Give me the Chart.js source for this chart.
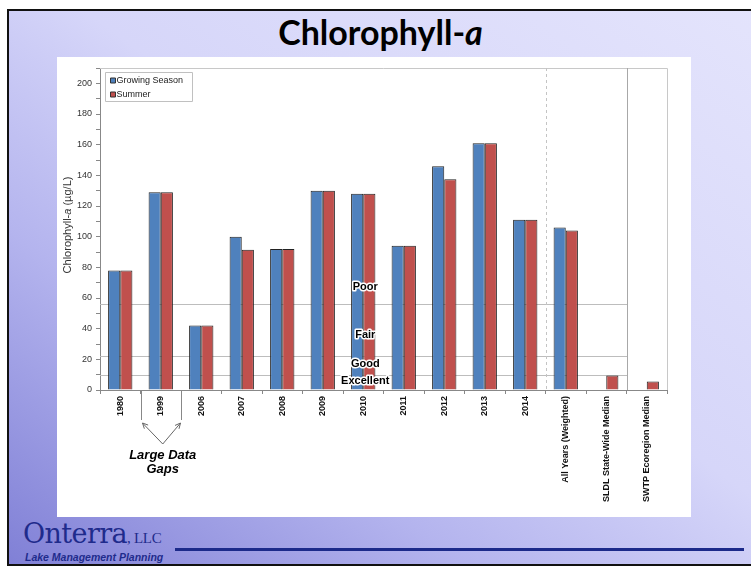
<!DOCTYPE html>
<html lang="en">
<head>
<meta charset="UTF-8">
<title>Chlorophyll-a</title>
<script src="https://cdn.jsdelivr.net/npm/chart.js@4"></script>
<style>
  html, body { margin: 0; padding: 0; width: 751px; height: 568px; overflow: hidden; background: #fff; }
  .slide {
    position: absolute; left: 7px; top: 9px; width: 760px; height: 553px;
    border: 2px solid #111; border-right: none;
    background: linear-gradient(to top right, #8080d6 0%, #b4b4ee 30%, #d6d6f9 55%, #e4e4fc 100%);
  }
  .title {
    position: absolute; left: 0; top: 11px; width: 761px; text-align: center;
    font: bold 34px Lato, "Open Sans", sans-serif; color: #000;
  }
  .panel { position: absolute; left: 57px; top: 57px; width: 634px; height: 460px; background: #fff; }
  .logo { position: absolute; left: 23px; top: 518px; color: #1f2b8c; font-family: "DejaVu Serif", serif; white-space: nowrap; }
  .logo .big { font-size: 27px; letter-spacing: -0.6px; }
  .logo .llc { font-size: 15px; font-family: "Liberation Serif", serif; letter-spacing: -0.3px; }
  .tag { position: absolute; left: 25px; top: 551px; color: #1f2b8c; font: italic bold 10.5px "Liberation Sans", Arial, sans-serif; }
  .rule { position: absolute; left: 175px; top: 548px; width: 569px; height: 3px; background: #1c2a8a; }
</style>
</head>
<body>
  <div class="slide"></div>
  <div class="title">Chlorophyll-<i>a</i></div>
  <div class="panel"><canvas id="chart" width="634" height="460"></canvas></div>
  <div class="logo"><span class="big">Onterra</span><span class="llc">, LLC</span></div>
  <div class="tag">Lake Management Planning</div>
  <div class="rule"></div>

<script>
const categories = ['1980', '1999', '2006', '2007', '2008', '2009', '2010', '2011', '2012', '2013', '2014',
  'All Years (Weighted)', 'SLDL State-Wide Median', 'SWTP Ecoregion Median'];
const growingSeason = [78, 129, 42, 100, 92, 130, 128, 94, 146, 161, 111, 106, null, null];
const summer = [78, 129, 42, 91.5, 92, 130, 128, 94, 137.5, 161, 111, 104, 9.5, 5.5];
const yTicks = { min: 0, max: 210, step: 10, labelEvery: 20 };
const thresholds = [10, 22, 56];
const zoneNames = ['Excellent', 'Good', 'Fair', 'Poor'];
const zoneLabelAt = [6, 17, 36, 67];

const BLUE = '#4F81BD', RED = '#C0504D';

const overlay = {
  id: 'overlay',
  beforeDatasetsDraw(chart) {
    const { ctx, chartArea: a, scales: { x, y } } = chart;
    const edge = i => (x.getPixelForValue(i - 1) + x.getPixelForValue(i)) / 2;
    ctx.save();
    ctx.lineWidth = 1;
    // plot frame (top + right)
    ctx.strokeStyle = '#c8c8c8';
    ctx.beginPath();
    ctx.moveTo(a.left, a.top + 0.5);
    ctx.lineTo(a.right + 0.5, a.top + 0.5);
    ctx.lineTo(a.right + 0.5, a.bottom);
    ctx.stroke();
    // trophic thresholds
    const xEnd = Math.round(edge(13));
    ctx.strokeStyle = '#bdbdbd';
    thresholds.forEach(t => {
      const py = Math.round(y.getPixelForValue(t)) + 0.5;
      ctx.beginPath(); ctx.moveTo(a.left, py); ctx.lineTo(xEnd, py); ctx.stroke();
    });
    // dividers
    ctx.setLineDash([3, 3]);
    ctx.strokeStyle = '#c4c4c4';
    let px = Math.round(edge(11)) + 0.5;
    ctx.beginPath(); ctx.moveTo(px, a.top); ctx.lineTo(px, a.bottom); ctx.stroke();
    ctx.setLineDash([]);
    ctx.strokeStyle = '#a8a8a8';
    px = xEnd + 0.5;
    ctx.beginPath(); ctx.moveTo(px, a.top); ctx.lineTo(px, a.bottom); ctx.stroke();
    ctx.restore();
  },
  afterDraw(chart) {
    const { ctx, chartArea: a, scales: { x, y } } = chart;
    const edge = i => (x.getPixelForValue(i - 1) + x.getPixelForValue(i)) / 2;
    ctx.save();

    // zone labels
    ctx.font = 'bold 11px "Liberation Sans", Arial, sans-serif';
    ctx.textAlign = 'center';
    ctx.textBaseline = 'middle';
    ctx.lineJoin = 'round';
    const zx = x.getPixelForValue(6) + 2;
    zoneNames.forEach((n, i) => {
      const zy = y.getPixelForValue(zoneLabelAt[i]);
      ctx.lineWidth = 3; ctx.strokeStyle = '#fff'; ctx.strokeText(n, zx, zy);
      ctx.fillStyle = '#000'; ctx.fillText(n, zx, zy);
    });

    // legend
    const lx = a.left + 5.5, ly = a.top + 4.5;
    ctx.fillStyle = '#fff';
    ctx.fillRect(lx, ly, 87, 29);
    ctx.strokeStyle = '#c0c0c0'; ctx.lineWidth = 1;
    ctx.strokeRect(lx, ly, 87, 29);
    ctx.font = '9px "Liberation Sans", Arial, sans-serif';
    ctx.textAlign = 'left';
    [['Growing Season', BLUE], ['Summer', RED]].forEach(([t, c], i) => {
      const yy = ly + 8 + i * 14;
      ctx.fillStyle = c; ctx.fillRect(lx + 5, yy - 2.5, 5, 5);
      ctx.strokeStyle = '#333'; ctx.strokeRect(lx + 5, yy - 2.5, 5, 5);
      ctx.fillStyle = '#222'; ctx.fillText(t, lx + 11, yy);
    });

    // y title with italic a
    ctx.translate(10.5, 168);
    ctx.rotate(-Math.PI / 2);
    const nf = '11px "Liberation Sans", Arial, sans-serif';
    const itf = 'italic 11px "Liberation Sans", Arial, sans-serif';
    const parts = [['Chlorophyll-', nf], ['a', itf], [' (\u00b5g/L)', nf]];
    let w = 0;
    parts.forEach(([t, f]) => { ctx.font = f; w += ctx.measureText(t).width; });
    let cx = -w / 2;
    ctx.fillStyle = '#333';
    parts.forEach(([t, f]) => { ctx.font = f; ctx.fillText(t, cx, 0); cx += ctx.measureText(t).width; });
    ctx.setTransform(1, 0, 0, 1, 0, 0);

    // large data gaps annotation
    const g1 = Math.round(edge(1)) + 0.5, g2 = Math.round(edge(2)) + 0.5;
    const b = a.bottom;
    ctx.strokeStyle = '#888'; ctx.lineWidth = 1;
    ctx.beginPath();
    ctx.moveTo(g1, b); ctx.lineTo(g1, b + 30);
    ctx.moveTo(g2, b); ctx.lineTo(g2, b + 30);
    ctx.stroke();
    const mx = x.getPixelForValue(1) + 2, my = b + 54;
    ctx.strokeStyle = '#666';
    [[g1 + 1, b + 33], [g2 - 1, b + 33]].forEach(([tx, ty]) => {
      ctx.beginPath(); ctx.moveTo(mx, my); ctx.lineTo(tx, ty); ctx.stroke();
      const ang = Math.atan2(ty - my, tx - mx);
      ctx.beginPath();
      ctx.moveTo(tx - 6 * Math.cos(ang - 0.45), ty - 6 * Math.sin(ang - 0.45));
      ctx.lineTo(tx, ty);
      ctx.lineTo(tx - 6 * Math.cos(ang + 0.45), ty - 6 * Math.sin(ang + 0.45));
      ctx.stroke();
    });
    ctx.font = 'italic bold 13px "Liberation Sans", Arial, sans-serif';
    ctx.textAlign = 'center';
    ctx.fillStyle = '#000';
    ctx.fillText('Large Data', mx, b + 65);
    ctx.fillText('Gaps', mx, b + 79);
    ctx.restore();
  }
};

new Chart(document.getElementById('chart'), {
  type: 'bar',
  data: {
    labels: categories,
    datasets: [
      { label: 'Growing Season', data: growingSeason, backgroundColor: BLUE, borderColor: '#222', borderWidth: 1 },
      { label: 'Summer', data: summer, backgroundColor: RED, borderColor: '#222', borderWidth: 1 }
    ]
  },
  options: {
    responsive: false,
    animation: false,
    layout: { padding: { top: 11, right: 24, left: 0, bottom: 0 } },
    datasets: { bar: { categoryPercentage: 0.6, barPercentage: 1.0 } },
    plugins: { legend: { display: false }, tooltip: { enabled: false } },
    scales: {
      x: {
        afterFit: s => { s.height = 127; },
        grid: { drawOnChartArea: false, tickLength: 4, color: '#888' },
        border: { color: '#888' },
        ticks: {
          autoSkip: false, maxRotation: 90, minRotation: 90, padding: 2,
          color: '#111', font: { family: '"Liberation Sans", Arial, sans-serif', size: 9, weight: 'bold' }
        }
      },
      y: {
        min: yTicks.min, max: yTicks.max,
        afterFit: s => { s.width = 43; },
        grid: { drawOnChartArea: false, tickLength: 4, color: '#888' },
        border: { color: '#888' },
        ticks: {
          stepSize: yTicks.step, padding: 4, color: '#333',
          font: { family: '"Liberation Sans", Arial, sans-serif', size: 9 },
          callback: v => (v % yTicks.labelEvery === 0 ? v : '')
        }
      }
    }
  },
  plugins: [overlay]
});
</script>
</body>
</html>
